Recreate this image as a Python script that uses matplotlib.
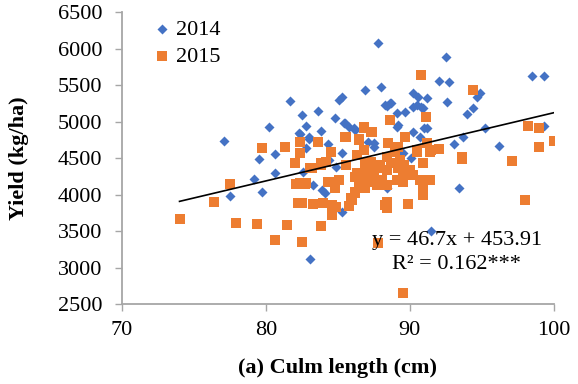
import matplotlib
matplotlib.use("Agg")
import matplotlib.pyplot as plt
import numpy as np

plt.rcParams['font.family'] = ['Liberation Serif', 'DejaVu Serif']

# 2014 data (culm length cm, yield kg/ha)
x2014 = [77.1, 77.5, 79.2, 79.5, 79.7, 80.2, 80.6, 80.6, 81.7, 82.3, 82.4, 82.5, 82.6, 82.8,
         82.8, 83.0, 83.0, 83.1, 83.3, 83.6, 83.8, 83.9, 84.1, 84.3, 84.4, 84.8, 84.9, 85.1,
         85.3, 85.3, 85.3, 85.4, 85.5, 85.8, 86.1, 86.2, 86.9, 87.1, 87.5, 87.5, 87.8, 88.0,
         88.3, 88.4, 88.4, 88.6, 88.7, 89.1, 89.1, 89.2, 89.3, 89.5, 89.7, 90.1, 90.2, 90.2,
         90.2, 90.5, 90.6, 90.7, 90.8, 90.9, 91.0, 91.2, 91.2, 91.5, 92.0, 92.5, 92.6, 92.7,
         93.1, 93.4, 93.7, 94.0, 94.4, 94.7, 94.9, 95.2, 96.2, 98.5, 99.3, 99.3]
y2014 = [4737, 3985, 4213, 4487, 4040, 4925, 4555, 4299, 5281, 4843, 4833, 5097, 4317, 4943,
         4637, 4769, 4788, 3125, 4134, 5152, 4874, 4066, 4021, 4692, 4477, 5052, 4385, 5299,
         5344, 4569, 3760, 4980, 4988, 4933, 4911, 4888, 5436, 4728, 4659, 4706, 6084, 5481,
         5230, 5217, 4089, 5254, 5262, 5117, 4933, 4955, 4203, 4569, 5139, 4500, 5399, 5199,
         4865, 5230, 5344, 4796, 5199, 5185, 4911, 5322, 4911, 3504, 5563, 5884, 5276, 5550,
         4696, 4097, 4796, 5107, 5185, 5336, 5399, 4911, 4673, 5632, 5632, 4943]

# 2015 data
x2015 = [74.0, 76.4, 77.5, 77.9, 79.4, 79.7, 80.6, 81.3, 81.5, 82.0, 82.1, 82.2, 82.4, 82.4,
         82.4, 82.5, 82.5, 82.7, 82.8, 83.1, 83.2, 83.3, 83.6, 83.8, 83.8, 83.8, 84.0, 84.2,
         84.3, 84.4, 84.5, 84.6, 84.6, 84.7, 84.8, 84.9, 85.1, 85.5, 85.6, 85.6, 85.8, 85.9,
         86.0, 86.2, 86.2, 86.2, 86.3, 86.3, 86.5, 86.5, 86.5, 86.6, 86.8, 86.8, 86.8, 86.8,
         86.9, 86.9, 87.0, 87.3, 87.3, 87.3, 87.4, 87.4, 87.5, 87.7, 87.8, 87.8, 87.9, 88.0,
         88.1, 88.3, 88.4, 88.4, 88.4, 88.4, 88.4, 88.5, 88.6, 88.7, 89.0, 89.1, 89.2, 89.2,
         89.3, 89.5, 89.5, 89.5, 89.6, 89.7, 89.9, 90.0, 90.2, 90.5, 90.5, 90.7, 90.8, 90.9,
         90.9, 90.9, 91.1, 91.2, 91.4, 91.4, 91.5, 92.0, 93.6, 93.6, 94.4, 97.1, 98.0, 98.2,
         99.0, 99.0, 100.0]
y2015 = [3669, 3906, 4150, 3618, 3596, 4637, 3381, 4651, 3586, 4440, 4144, 3892, 4728, 4577,
         4158, 3884, 3353, 4144, 4158, 4371, 4363, 3874, 4728, 4432, 3569, 4408, 3892, 4454,
         4180, 4180, 4587, 3860, 3723, 4180, 4089, 3837, 4203, 4796, 4796, 4408, 3847, 3952,
         3929, 4021, 4248, 4043, 4295, 4545, 4760, 4180, 4751, 4180, 4919, 4295, 4614, 4933,
         4089, 4408, 4432, 4226, 4454, 4865, 4856, 4180, 4317, 4134, 3336, 4363, 4408, 4180,
         4203, 3860, 3815, 4522, 4340, 4134, 3906, 4706, 5025, 4432, 4591, 4203, 4659, 4363,
         4477, 4271, 4180, 2651, 4408, 4788, 3874, 4340, 4271, 4591, 4614, 4203, 5637, 4432,
         4134, 3997, 5062, 4706, 4591, 4203, 4614, 4628, 4522, 4487, 5436, 4468, 3929, 4943,
         4911, 4651, 4741]

slope, intercept = 46.7, 453.91
trend_x = [74.0, 100.0]
eq_text = "y = 46.7x + 453.91"
r2_text = "R\u00b2 = 0.162***"

xticks = [70, 80, 90, 100]
yticks = list(range(2500, 6501, 500))

fig = plt.figure(figsize=(5.78, 3.84), dpi=100)
ax = fig.add_axes([0.211, 0.2076, 0.747, 0.7604])

ax.scatter(x2014, y2014, marker='D', s=26, color='#4472C4', linewidths=0, label='2014', zorder=2)
ax.scatter(x2015, y2015, marker='s', s=50, color='#ED7D31', linewidths=0, label='2015', zorder=3)
tx = np.array(trend_x)
ax.plot(tx, slope * tx + intercept, color='black', lw=1.2, zorder=4)

ax.set_xlim(70, 100)
ax.set_ylim(2500, 6500)
ax.set_xticks(xticks)
ax.set_yticks(yticks)
for s in ['top', 'right']:
    ax.spines[s].set_visible(False)
for s in ['left', 'bottom']:
    ax.spines[s].set_color('#A6A6A6')
    ax.spines[s].set_linewidth(1.3)
ax.tick_params(direction='out', length=5, width=1.0, color='#A6A6A6', labelsize=16)
ax.tick_params(axis='y', pad=9)
ax.tick_params(axis='x', pad=7)

ax.set_ylabel('Yield (kg/ha)', fontsize=16, fontweight='bold')
ax.yaxis.set_label_coords(-0.238, 0.5)
ax.set_xlabel('(a) Culm length (cm)', fontsize=16, fontweight='bold')
ax.xaxis.set_label_coords(0.5, -0.217)
ax.xaxis.label.set_va('center')
ax.yaxis.label.set_va('center')

ax.text(0.775, 0.217, eq_text, transform=ax.transAxes, fontsize=16, ha='center', va='center')
ax.text(0.775, 0.135, r2_text, transform=ax.transAxes, fontsize=16, ha='center', va='center')

leg = ax.legend(loc='upper left', bbox_to_anchor=(0.01, 1.022), frameon=False, fontsize=16,
                handletextpad=-0.37, labelspacing=0.28, markerscale=1.0, borderaxespad=0.2)

fig.savefig('out.png', dpi=100)
